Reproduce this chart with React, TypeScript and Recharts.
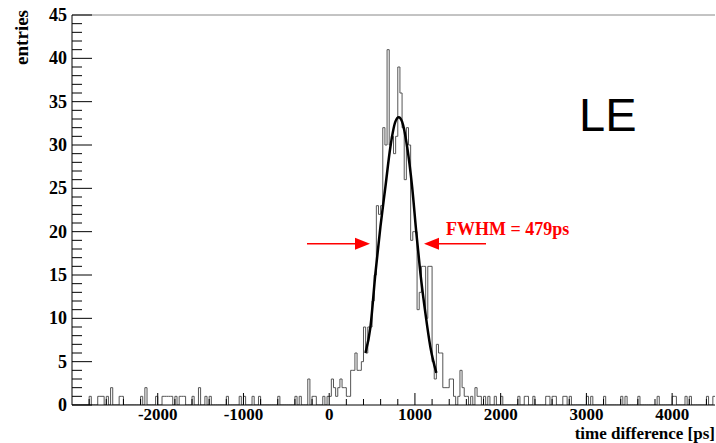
import { LineChart, Line, XAxis, YAxis, ReferenceLine, ReferenceDot } from "recharts";

const BIN_WIDTH = 25;
const X_MIN = -3000;
const X_MAX = 4500;

// histogram around the peak, one entry per 25 ps bin starting at 0 ps
const PEAK_START = 0;
const peakCounts = [
  1, 3, 2, 1, 2, 3, 2, 2, 1, 1, 4, 4, 6, 4, 4, 5,
  9, 6, 9, 9, 12, 15, 23, 22, 23, 32, 30, 41, 30, 31, 29, 31,
  39, 36, 32, 26, 32, 30, 19, 20, 20, 11, 13, 16, 16, 10, 16, 16,
  5, 3, 7, 6, 6, 2,
];

// scattered entries away from the peak: [bin start ps, entries]
const sideBins: [number, number][] = [
  [-2800, 1], [-2700, 1], [-2675, 1], [-2650, 1], [-2600, 1], [-2550, 2],
  [-2450, 1], [-2425, 1], [-2200, 1], [-2150, 2], [-2025, 1], [-1950, 1],
  [-1925, 1], [-1900, 1], [-1875, 1], [-1850, 1], [-1800, 1], [-1750, 1],
  [-1725, 1], [-1700, 1], [-1600, 1], [-1525, 2], [-1450, 1], [-1400, 1],
  [-1200, 1], [-1050, 1], [-1000, 1], [-900, 1], [-825, 1], [-600, 1],
  [-400, 1], [-350, 1], [-250, 3], [-200, 1], [-175, 1], [-75, 1], [-25, 1],
  [1350, 2], [1375, 2], [1400, 3], [1425, 3], [1450, 1], [1500, 1],
  [1525, 4], [1550, 2], [1575, 1], [1600, 1], [1650, 1], [1700, 2],
  [1725, 1], [1750, 1], [1800, 1], [1850, 1], [1925, 1], [2000, 1],
  [2200, 1], [2275, 1], [2300, 1], [2375, 1], [2525, 1], [2550, 1],
  [2600, 1], [2625, 1], [2725, 1], [2750, 1], [2800, 1], [3000, 1],
  [3050, 1], [3200, 1], [3400, 1], [3450, 1], [3600, 1], [3825, 1],
  [4000, 1], [4025, 1], [4150, 1], [4200, 1], [4400, 1], [4475, 1],
];

// gaussian fit curve
const fitX = [423, 481, 539, 598, 656, 714, 772, 811, 850, 909, 967, 1017, 1064, 1122, 1180, 1250];
const fitY = [6.0, 9.0, 15.2, 20.6, 25.2, 29.8, 32.7, 33.2, 32.7, 29.8, 25.2, 19.8, 15.2, 10.6, 6.7, 3.7];

const xMajorTicks = [-2000, -1000, 0, 1000, 2000, 3000, 4000];
const yMajorTicks = [0, 5, 10, 15, 20, 25, 30, 35, 40, 45];

const ARROW_Y = 18.6;
const leftArrow = [{ x: -259, y: ARROW_Y }, { x: 476, y: ARROW_Y }];
const rightArrow = [{ x: 1829, y: ARROW_Y }, { x: 1106, y: ARROW_Y }];

const FONT = "'Liberation Serif', 'Times New Roman', serif";
const RED = "#ff0000";

const nBins = (X_MAX - X_MIN) / BIN_WIDTH;
const counts: number[] = new Array(nBins).fill(0);
sideBins.forEach(([x, n]) => {
  counts[(x - X_MIN) / BIN_WIDTH] = n;
});
peakCounts.forEach((n, i) => {
  counts[(PEAK_START - X_MIN) / BIN_WIDTH + i] = n;
});
const histData = counts.map((n, i) => ({ x: X_MIN + i * BIN_WIDTH, y: n }));
histData.push({ x: X_MAX, y: counts[nBins - 1] });

const fitData = fitX.map((x, i) => ({ x, y: fitY[i] }));

const xTicks: number[] = [];
for (let v = -2800; v <= 4400; v += 200) xTicks.push(v);
const yTicks: number[] = [];
for (let v = 0; v <= 45; v += 1) yTicks.push(v);

function XTick({ x, y, payload }: any) {
  const major = xMajorTicks.includes(payload.value);
  return (
    <g>
      <line x1={x} x2={x} y1={y} y2={y - (major ? 12 : 6)} stroke="#000" />
      {major && (
        <text x={x} y={y + 14.5} textAnchor="middle" fontFamily={FONT} fontWeight="bold" fontSize={17} fill="#000">
          {payload.value}
        </text>
      )}
    </g>
  );
}

function YTick({ x, y, payload }: any) {
  const major = yMajorTicks.includes(payload.value);
  return (
    <g>
      <line x1={x} x2={x + (major ? 20 : 10)} y1={y} y2={y} stroke="#000" />
      {major && (
        <text x={x - 5} y={y + 6} textAnchor="end" fontFamily={FONT} fontWeight="bold" fontSize={18} fill="#000">
          {payload.value}
        </text>
      )}
    </g>
  );
}

function Arrow(props: any) {
  const { x1, y1, x2, y2 } = props;
  const dir = x2 > x1 ? 1 : -1;
  const head = 15;
  return (
    <g>
      <line x1={x1} y1={y1} x2={x2 - dir * head} y2={y2} stroke={RED} strokeWidth={1.5} />
      <polygon points={`${x2},${y2} ${x2 - dir * head},${y2 - 6} ${x2 - dir * head},${y2 + 6}`} fill={RED} />
    </g>
  );
}

export default function App() {
  return (
    <div style={{ position: "absolute", left: 0, top: 0, width: 716, height: 443, background: "#fff" }}>
      <LineChart width={716} height={443} margin={{ top: 15, right: 1, left: 0, bottom: 0 }}>
        <XAxis
          type="number"
          dataKey="x"
          domain={[X_MIN, X_MAX]}
          ticks={xTicks}
          interval={0}
          tick={<XTick />}
          tickLine={false}
          tickSize={0}
          tickMargin={0}
          height={38}
          axisLine={{ stroke: "#000" }}
          allowDataOverflow
          label={{
            content: ({ viewBox }: any) => (
              <text
                x={viewBox.x + viewBox.width}
                y={viewBox.y + 34}
                textAnchor="end"
                fontFamily={FONT}
                fontWeight="bold"
                fontSize={17}
                fill="#000"
              >
                time difference [ps]
              </text>
            ),
          }}
        />
        <YAxis
          type="number"
          domain={[0, 45]}
          ticks={yTicks}
          interval={0}
          tick={<YTick />}
          tickLine={false}
          tickSize={0}
          tickMargin={0}
          width={72}
          axisLine={{ stroke: "#000" }}
          allowDataOverflow
          label={{
            content: ({ viewBox }: any) => (
              <text
                x={28}
                y={viewBox.y - 5}
                textAnchor="end"
                transform={`rotate(-90, 28, ${viewBox.y - 5})`}
                fontFamily={FONT}
                fontWeight="bold"
                fontSize={19}
                fill="#000"
              >
                entries
              </text>
            ),
          }}
        />
        <ReferenceLine y={45} stroke="#888" />
        <Line
          data={histData}
          dataKey="y"
          type="stepAfter"
          stroke="#555"
          strokeWidth={1}
          dot={false}
          isAnimationActive={false}
        />
        <Line
          data={fitData}
          dataKey="y"
          type="monotone"
          stroke="#000"
          strokeWidth={2.5}
          dot={false}
          isAnimationActive={false}
        />
        <ReferenceLine segment={leftArrow} shape={<Arrow />} />
        <ReferenceLine segment={rightArrow} shape={<Arrow />} />
        <ReferenceDot
          x={1362}
          y={19.6}
          r={0}
          shape={(p: any) => (
            <text x={p.cx} y={p.cy} fontFamily={FONT} fontWeight="bold" fontSize={18} fill={RED}>
              FWHM = 479ps
            </text>
          )}
        />
        <ReferenceDot
          x={2914}
          y={31.6}
          r={0}
          shape={(p: any) => (
            <text x={p.cx} y={p.cy} fontFamily="'Liberation Sans', Arial, sans-serif" fontSize={47} fill="#000">
              LE
            </text>
          )}
        />
      </LineChart>
    </div>
  );
}
